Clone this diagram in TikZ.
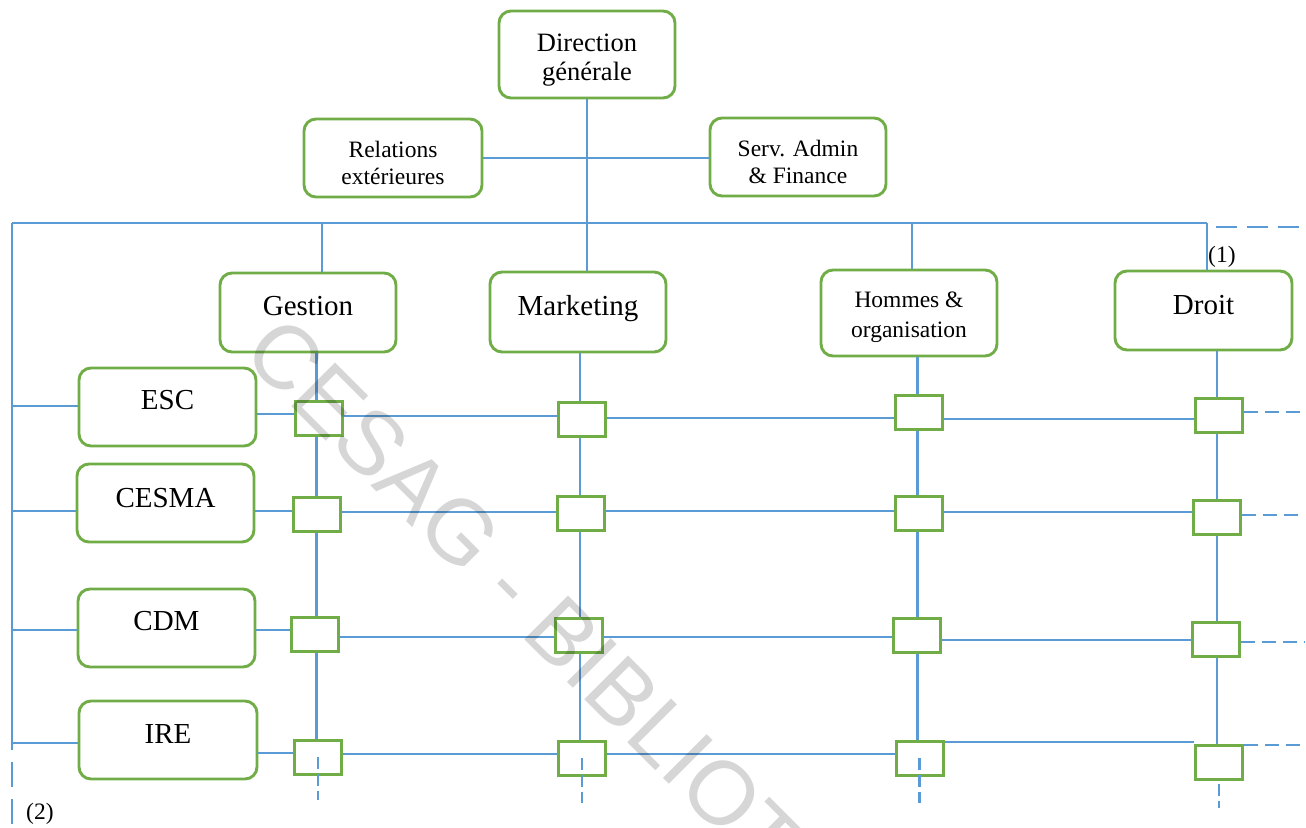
\documentclass[tikz,border=0pt]{standalone}
\usepackage{fontspec}
\setmainfont{Liberation Serif}
\newfontfamily\wmfont{Liberation Sans}
\definecolor{lnblue}{HTML}{5B9BD5}
\definecolor{bxgreen}{HTML}{70AD47}
% two centred lines, baseline on the first one
\newcommand\twoln[2]{\begin{tabular}[t]{@{}c@{}}#1\\#2\end{tabular}}

\begin{document}
\begin{tikzpicture}[x=1pt,y=-1pt,
  unit/.style={draw=bxgreen, line width=2.9pt, rounded corners=12pt, fill=white,
               inner sep=0pt, anchor=base, minimum width=176pt},
  bigtxt/.style={font=\fontsize{29}{34}\selectfont},
  dgtxt/.style={font=\fontsize{26.5}{29}\selectfont},
  smalltxt/.style={font=\fontsize{23.5}{27}\selectfont},
  homtxt/.style={font=\fontsize{23.5}{30}\selectfont},
  junction/.style={draw=bxgreen, line width=3pt, fill=white,
                   minimum width=47pt, minimum height=34pt, inner sep=0pt},
  link/.style={draw=lnblue, line width=2.8pt},
  rowdash/.style={link, dash pattern=on 14pt off 7pt},
  topdash/.style={link, dash pattern=on 21pt off 10pt},
  coldash/.style={link, dash pattern=on 12pt off 5pt},
  raildash/.style={link, dash pattern=on 25pt off 12pt},
  note/.style={font=\fontsize{23.5}{27}\selectfont, inner sep=0pt, anchor=base west},
  wm/.style={font=\wmfont\fontsize{90}{90}\selectfont, text=black, text opacity=0.16,
             inner sep=0pt, anchor=base west, rotate=-45}
]
\useasboundingbox (0,0) rectangle (1306,827);

% ---- management level
\node[unit, dgtxt, text height=40pt, text depth=47pt] (dg) at (587,51) {\twoln{Direction}{générale}};
\node[unit, smalltxt, minimum width=178pt, text height=38pt, text depth=40pt] (rel) at (393,157) {\twoln{Relations}{extérieures}};
\node[unit, smalltxt, text height=38pt, text depth=40pt] (adm) at (798,156) {\twoln{Serv. Admin}{\& Finance}};

% ---- departments
\node[unit, bigtxt, text height=42pt, text depth=37pt] (ges) at (308,315) {Gestion};
\node[unit, bigtxt, text height=43pt, text depth=37pt] (mkt) at (578,315) {Marketing};
\node[unit, homtxt, text height=37pt, text depth=49pt] (hom) at (909,307) {\twoln{Hommes \&}{organisation}};
\node[unit, bigtxt, minimum width=177pt, text height=43pt, text depth=36pt] (dro) at (1203.5,314) {Droit};

% ---- schools
\node[unit, bigtxt, minimum width=177pt, text height=41pt, text depth=37pt] (esc) at (167.5,409) {ESC};
\node[unit, bigtxt, minimum width=177pt, text height=43pt, text depth=35pt] (cesma) at (165.5,507) {CESMA};
\node[unit, bigtxt, minimum width=177pt, text height=41pt, text depth=37pt] (cdm) at (166.5,630) {CDM};
\node[unit, bigtxt, minimum width=178pt, text height=42pt, text depth=36pt] (ire) at (168,743) {IRE};

% ---- labels
\node[note] (n1) at (1208,262) {(1)};
\node[note] (n2) at (26,819) {(2)};

% ---- bus and rails
\coordinate (busL) at (12,223);
\coordinate (busR) at (1207,223);
\coordinate (railEnd) at (12,750);
\coordinate (railDashA) at (12,762);
\coordinate (railDashB) at (12,827);
\coordinate (topDashA) at (1216,227);
\coordinate (topDashB) at (1306,227);
\coordinate (tG) at (322,223);
\coordinate (tM) at (587,223);
\coordinate (tH) at (912,223);
% column axes
\coordinate (cG) at (316.5,0);
\coordinate (cM) at (580,0);
\coordinate (cH) at (917.5,0);
\coordinate (cD) at (1217,0);

\draw[link] (busL) -- (busR);
\draw[link] (busL) -- (railEnd);
\draw[raildash] (railDashA) -- (railDashB);
\draw[topdash] (topDashA) -- (topDashB);
\draw[link] (dg.south) -- (dg.south |- busL);
\draw[link] (rel.east) -- (rel.east -| adm.west);
\draw[link] (tG) -- (tG |- ges.north);
\draw[link] (tM) -- (tM |- mkt.north);
\draw[link] (tH) -- (tH |- hom.north);
\draw[link] (busR) -- (busR |- dro.north);

% school feeders from the left rail
\draw[link] (busL |- 0,406) -- (esc.west |- 0,406);
\draw[link] (busL |- 0,511) -- (cesma.west |- 0,511);
\draw[link] (busL |- 0,630) -- (cdm.west |- 0,630);
\draw[link] (busL |- 0,743) -- (ire.west |- 0,743);

% ---- junction squares
\node[junction] (sqG1) at (318.5,418) {};
\node[junction] (sqM1) at (581.5,419) {};
\node[junction] (sqH1) at (919,412) {};
\node[junction] (sqD1) at (1219,415) {};
\node[junction] (sqG2) at (317,514) {};
\node[junction] (sqM2) at (580.5,513) {};
\node[junction] (sqH2) at (918.5,513) {};
\node[junction] (sqD2) at (1217,517) {};
\node[junction] (sqG3) at (314.5,634) {};
\node[junction] (sqM3) at (579,635) {};
\node[junction] (sqH3) at (916.5,635) {};
\node[junction] (sqD3) at (1215.5,639) {};
\node[junction] (sqG4) at (318,757) {};
\node[junction] (sqM4) at (582,758) {};
\node[junction] (sqH4) at (919.5,758) {};
\node[junction] (sqD4) at (1219,762) {};

% ---- row links
\draw[link] (esc.east |- 0,414) -- (sqG1.west |- 0,414);
\draw[link] (sqG1.east |- 0,416) -- (sqM1.west |- 0,416);
\draw[link] (sqM1.east |- 0,418) -- (sqH1.west |- 0,418);
\draw[link] (sqH1.east |- 0,419) -- (sqD1.west |- 0,419);
\draw[rowdash] (sqD1.east |- 0,412) -- (1304,412);

\draw[link] (cesma.east |- 0,511) -- (sqG2.west |- 0,511);
\draw[link] (sqG2.east |- 0,512) -- (sqM2.west |- 0,512);
\draw[link] (sqM2.east |- 0,511) -- (sqH2.west |- 0,511);
\draw[link] (sqH2.east |- 0,512) -- (sqD2.west |- 0,512);
\draw[rowdash] (sqD2.east |- 0,515) -- (1304,515);

\draw[link] (cdm.east |- 0,630) -- (sqG3.west |- 0,630);
\draw[link] (sqG3.east |- 0,637) -- (sqM3.west |- 0,637);
\draw[link] (sqM3.east |- 0,637) -- (sqH3.west |- 0,637);
\draw[link] (sqH3.east |- 0,640) -- (sqD3.west |- 0,640);
\draw[rowdash] (sqD3.east |- 0,642) -- (1304,642);

\draw[link] (ire.east |- 0,753) -- (sqG4.west |- 0,753);
\draw[link] (sqG4.east |- 0,754) -- (sqM4.west |- 0,754);
\draw[link] (sqM4.east |- 0,754) -- (sqH4.west |- 0,754);
\draw[link] (sqH4.east |- 0,742) -- (sqD4.west |- 0,742);
\draw[rowdash] (sqD4.east |- 0,745) -- (1304,745);

% ---- column links
\foreach \c/\d in {G/ges, M/mkt, H/hom, D/dro}{
  \draw[link] (\d.south -| c\c) -- (sq\c1.north -| c\c);
  \draw[link] (sq\c1.south -| c\c) -- (sq\c2.north -| c\c);
  \draw[link] (sq\c2.south -| c\c) -- (sq\c3.north -| c\c);
  \draw[link] (sq\c3.south -| c\c) -- (sq\c4.north -| c\c);
}
\draw[coldash] (sqG4.center) -- (sqG4.center |- 0,800);
\draw[coldash] (sqM4.center) -- (sqM4.center |- 0,803);
\draw[coldash] (sqH4.center) -- (sqH4.center |- 0,803);
\draw[coldash] ([yshift=-3pt]sqD4.south) -- (sqD4.south |- 0,808);

% ---- watermark
\begin{scope}
  \clip (0,0) rectangle (1306,827);
  \node[wm] (wmark) at (240,355) {CESAG - BIBLIOT};
\end{scope}
\end{tikzpicture}
\end{document}
